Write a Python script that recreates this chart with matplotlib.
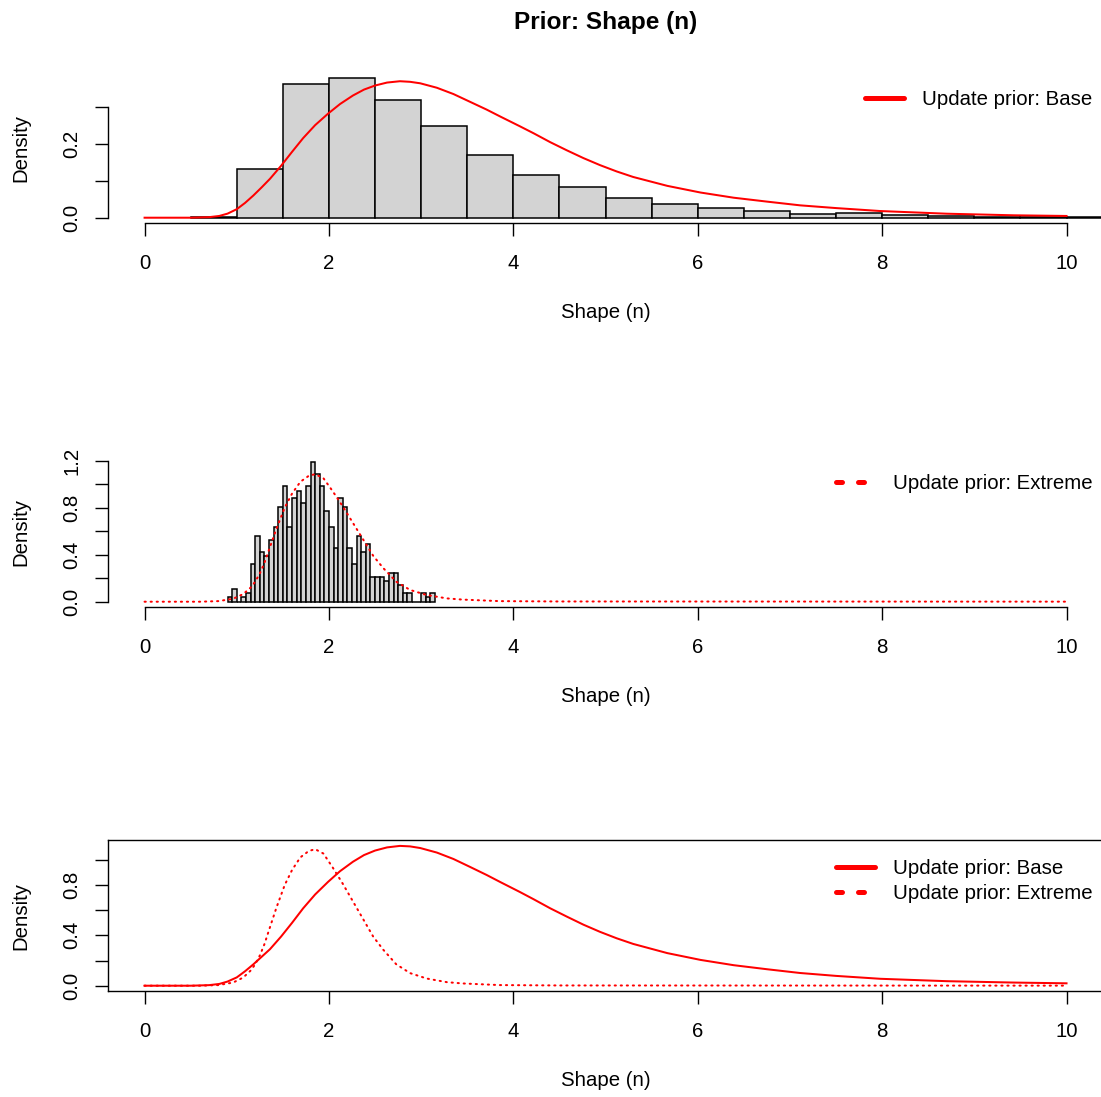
import numpy as np
import matplotlib.pyplot as plt
from matplotlib.lines import Line2D

plt.rcParams['font.family'] = ['Liberation Sans', 'DejaVu Sans']

W, H = 1101, 1097
FS = 14.7

# base prior: histogram of draws (bins of 0.5) and the fitted density
base_left = [0.5, 1.0, 1.5, 2.0, 2.5, 3.0, 3.5, 4.0, 4.5, 5.0, 5.5,
             6.0, 6.5, 7.0, 7.5, 8.0, 8.5, 9.0, 9.5, 10.0, 10.5]
base_hist = [0.002, 0.131, 0.361, 0.3776, 0.318, 0.249, 0.170, 0.1147, 0.083, 0.054, 0.038,
             0.026, 0.018, 0.009, 0.012, 0.007, 0.004, 0.003, 0.002, 0.002, 0.001]

base_x = [0.0, 0.5, 0.7, 0.81, 0.9, 1.0, 1.09, 1.18, 1.27, 1.36, 1.48, 1.6, 1.72, 1.85,
          1.99, 2.12, 2.26, 2.38, 2.5, 2.63, 2.77, 2.88, 2.99, 3.17, 3.35, 3.53, 3.71,
          3.86, 4.07, 4.22, 4.4, 4.58, 4.76, 4.94, 5.12, 5.3, 5.67, 6.03, 6.39, 6.75,
          7.11, 7.5, 7.98, 8.7, 9.43, 10.0]
base_y = [0.0, 0.0, 0.0015, 0.0047, 0.011, 0.023, 0.040, 0.060, 0.082, 0.105, 0.140,
          0.178, 0.215, 0.250, 0.281, 0.307, 0.330, 0.346, 0.357, 0.365, 0.3686, 0.367,
          0.363, 0.351, 0.334, 0.313, 0.292, 0.273, 0.247, 0.228, 0.204, 0.182, 0.161,
          0.142, 0.125, 0.110, 0.086, 0.068, 0.054, 0.0435, 0.0334, 0.026, 0.018,
          0.0108, 0.0065, 0.0047]

# extreme prior: histogram of draws (bins of 0.05)
ext_left = np.round(np.arange(0.9, 3.15, 0.05), 2)
ext_hist = [0.036, 0.108, 0.0, 0.036, 0.071, 0.318, 0.562, 0.423, 0.389, 0.525,
            0.633, 0.809, 0.984, 0.633, 0.879, 0.945, 0.843, 0.984, 1.189, 1.087,
            0.984, 0.772, 0.633, 0.460, 0.879, 0.809, 0.460, 0.318, 0.562, 0.423,
            0.491, 0.213, 0.213, 0.213, 0.179, 0.247, 0.247, 0.142, 0.071, 0.071,
            0.0, 0.0, 0.071, 0.036, 0.071]

ext_x = [0.0, 0.6, 0.8, 0.96, 1.07, 1.15, 1.2, 1.25, 1.3, 1.34, 1.43, 1.52, 1.6, 1.69,
         1.78, 1.85, 1.94, 2.04, 2.15, 2.26, 2.37, 2.48, 2.59, 2.73, 2.88, 3.06, 3.28,
         3.45, 3.85, 4.5, 10.0]
ext_y = [0.0, 0.0, 0.005, 0.025, 0.065, 0.12, 0.17, 0.24, 0.33, 0.42, 0.62, 0.80,
         0.92, 1.02, 1.07, 1.085, 1.05, 0.94, 0.81, 0.67, 0.53, 0.39, 0.285, 0.17,
         0.10, 0.057, 0.028, 0.018, 0.005, 0.002, 0.0005]

# base prior density rescaled for the comparison panel
cmp_x = base_x
cmp_y = [0.0, 0.0, 0.0045, 0.014, 0.033, 0.066, 0.115, 0.17, 0.23, 0.29, 0.39, 0.50,
         0.615, 0.725, 0.825, 0.91, 0.985, 1.038, 1.074, 1.099, 1.111, 1.107, 1.094,
         1.058, 1.007, 0.944, 0.880, 0.823, 0.745, 0.687, 0.615, 0.549, 0.485, 0.428,
         0.377, 0.332, 0.259, 0.205, 0.163, 0.131, 0.101, 0.078, 0.055, 0.036, 0.025,
         0.019]

xticks = [0, 2, 4, 6, 8, 10]
dot = (0, (0.6, 2.4))
dot_leg = (0, (1.2, 3.2))


def px_axes(top, bottom):
    left, right = 107.7, 1103.4
    return fig.add_axes([left / W, 1 - bottom / H, (right - left) / W, (bottom - top) / H])


def r_style(ax, yticks, ylabels, ymax, box=False):
    ax.set_xlim(-0.4, 10.4)
    ax.set_ylim(-0.04 * ymax, 1.04 * ymax)
    ax.set_xticks(xticks)
    ax.set_xticklabels([str(t) for t in xticks])
    ax.set_yticks(yticks)
    ax.set_yticklabels(ylabels)
    ax.tick_params(axis='x', length=9.1, width=1.0, pad=13.2, labelsize=FS)
    ax.tick_params(axis='y', length=9.1, width=1.0, pad=9.6, labelsize=FS, labelrotation=90)
    for lab in ax.get_yticklabels():
        lab.set_va('center')
    for s in ax.spines.values():
        s.set_linewidth(1.0)
    if not box:
        ax.spines['top'].set_visible(False)
        ax.spines['right'].set_visible(False)
        ax.spines['bottom'].set_bounds(0, 10)
        ax.spines['left'].set_bounds(yticks[0], yticks[-1])


def labels(top, bottom):
    fig.text(605.5 / W, 1 - (bottom + 89.7) / H, 'Shape (n)', ha='center', va='center', fontsize=FS)
    fig.text(20.5 / W, 1 - (top + bottom) / 2 / H, 'Density', rotation=90,
             ha='center', va='center', fontsize=FS)


def add_legend(ax, handles, names, right, top):
    ax.legend(handles, names, loc='upper right', bbox_to_anchor=(right / W, 1 - top / H),
              bbox_transform=fig.transFigure, frameon=False, borderpad=0, borderaxespad=0,
              handlelength=1.9, handletextpad=0.9, labelspacing=0.28, fontsize=FS)


fig = plt.figure(figsize=(W / 100, H / 100), dpi=100)

solid_h = Line2D([], [], color='red', lw=3.6, solid_capstyle='round')
dot_h = Line2D([], [], color='red', lw=3.6, linestyle=dot_leg, dash_capstyle='round')

# top: base prior
ax1 = px_axes(72.3, 223.3)
ax1.bar(base_left, base_hist, width=0.5, align='edge', color='#D3D3D3',
        edgecolor='black', linewidth=1.1)
ax1.plot(base_x, base_y, color='red', lw=1.45)
r_style(ax1, [0, 0.1, 0.2, 0.3], ['0.0', '', '0.2', ''], max(base_hist))
add_legend(ax1, [solid_h], ['Update prior: Base'], 1092.5, 90.4)
labels(72.3, 223.3)

# middle: extreme prior
ax2 = px_axes(456.3, 607.3)
ax2.bar(ext_left, ext_hist, width=0.05, align='edge', color='#D3D3D3',
        edgecolor='black', linewidth=1.1)
ax2.plot(ext_x, ext_y, color='red', lw=1.45, linestyle=dot, dash_capstyle='round')
r_style(ax2, [0, 0.2, 0.4, 0.6, 0.8, 1.0, 1.2],
        ['0.0', '', '0.4', '', '0.8', '', '1.2'], max(ext_hist))
add_legend(ax2, [dot_h], ['Update prior: Extreme'], 1092.5, 474.4)
labels(456.3, 607.3)

# bottom: both densities
ax3 = px_axes(840.3, 991.3)
ax3.plot(cmp_x, cmp_y, color='red', lw=1.45)
ax3.plot(ext_x, ext_y, color='red', lw=1.45, linestyle=dot, dash_capstyle='round')
r_style(ax3, [0, 0.2, 0.4, 0.6, 0.8, 1.0], ['0.0', '', '0.4', '', '0.8', ''],
        max(cmp_y), box=True)
add_legend(ax3, [solid_h, dot_h], ['Update prior: Base', 'Update prior: Extreme'], 1092.5, 859.4)
labels(840.3, 991.3)

fig.text(605.5 / W, 1 - 23 / H, 'Prior: Shape (n)', ha='center', va='center',
         fontsize=17.6, fontweight='bold')

fig.savefig('out.png', dpi=100)
